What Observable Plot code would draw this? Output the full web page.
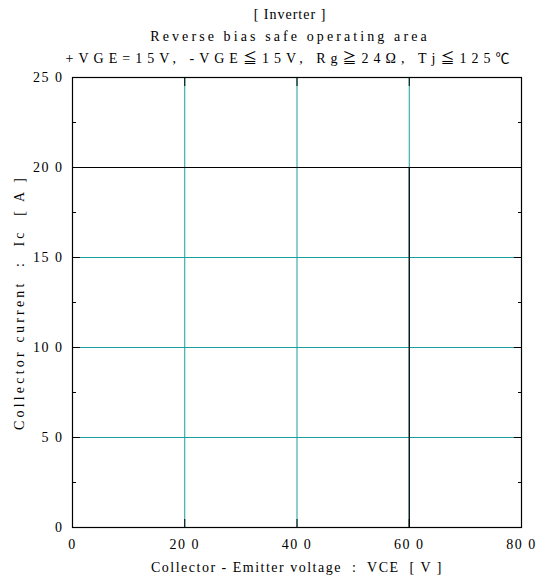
<!DOCTYPE html>
<html><head><meta charset="utf-8">
<script src="https://cdn.jsdelivr.net/npm/d3@7"></script>
<script src="https://cdn.jsdelivr.net/npm/@observablehq/plot@0.6"></script>
<style>
body{margin:0;background:#fff;}
#wrap{position:relative;width:546px;height:582px;}
#titles{position:absolute;left:0;top:4px;width:580px;text-align:center;font-family:"Liberation Serif","Noto Sans CJK JP",serif;font-size:14px;line-height:22px;color:#000;z-index:2;}
#titles div{white-space:pre;}
</style></head>
<body><div id="wrap"><div id="titles"></div></div>
<script>
const titleLines = ["[ Inverter ]", "Reverse bias safe operating area", "+VGE=15V, -VGE≦15V, Rg≧24Ω, Tj≦125℃"];
const titleSpacing = [1.0, 3.1, 5.0];
const xLabel = "Collector - Emitter voltage  :  VCE  [ V ]";
const yLabel = "Collector current  :  Ic  [ A ]";
const xTicks = [0, 200, 400, 600, 800];
const xTickLabels = ["0", "20 0", "40 0", "60 0", "80 0"];
const yTicks = [0, 50, 100, 150, 200, 250];
const yTickLabels = ["0", "5 0", "10 0", "15 0", "20 0", "25 0"];
const yMinor = [25, 75, 125, 175, 225];
const xGrid = [200, 400, 600];
const yGrid = [50, 100, 150];
// RBSOA boundary
const vce = [0, 600, 600];
const ic = [200, 200, 0];
const limitIc = [200];

const t = document.getElementById("titles");
titleLines.forEach((s, i) => {
  const d = document.createElement("div");
  d.textContent = s;
  d.style.letterSpacing = titleSpacing[i] + "px";
  t.appendChild(d);
});

const curve = vce.map((v, i) => ({v, i: ic[i]}));
const teal = "#1a9e9e";
const font = "'Liberation Serif','Noto Sans CJK JP',serif";

const tk = (data, opts) => Plot.axisY(data, {text: null, label: null, tickFormat: null, stroke: "#000", ...opts});
const tkx = (data, opts) => Plot.axisX(data, {text: null, label: null, tickFormat: null, stroke: "#000", ...opts});

const chart = Plot.plot({
  width: 546, height: 582,
  marginLeft: 72, marginRight: 25, marginTop: 77, marginBottom: 55,
  style: {fontFamily: font, fontSize: "14px", color: "#000", background: "#fff"},
  x: {domain: [0, 800]},
  y: {domain: [0, 250]},
  marks: [
    Plot.ruleY(yGrid, {stroke: teal, strokeWidth: 1}),
    Plot.ruleX(xGrid, {stroke: teal, strokeWidth: 1}),
    Plot.ruleY(limitIc, {stroke: "#000", strokeWidth: 1}),
    Plot.line(curve, {x: "v", y: "i", stroke: "#000", strokeWidth: 1.2}),
    // inward ticks
    tk(yTicks, {anchor: "left", tickSize: 8, dx: 8}),
    tk(yTicks, {anchor: "right", tickSize: 8, dx: -8}),
    tk(yMinor, {anchor: "left", tickSize: 4, dx: 4}),
    tk(yMinor, {anchor: "right", tickSize: 4, dx: -4}),
    tkx(xTicks, {anchor: "bottom", tickSize: 8, dy: -8}),
    tkx(xTicks, {anchor: "top", tickSize: 8, dy: 8}),
    Plot.frame({stroke: "#000", strokeWidth: 1.2}),
    Plot.axisX(xTicks, {tickSize: 0, tickPadding: 12, tickFormat: (d, i) => xTickLabels[i], fontSize: 14,
      label: xLabel, labelAnchor: "center", labelArrow: "none", labelOffset: 44}),
    Plot.axisY(yTicks, {tickSize: 0, tickPadding: 9, tickFormat: (d, i) => yTickLabels[i], fontSize: 14,
      label: yLabel, labelAnchor: "center", labelArrow: "none", labelOffset: 58})
  ]
});
document.getElementById("wrap").prepend(chart);
chart.style.position = "absolute";
chart.style.left = "0";
chart.style.top = "0";
chart.querySelectorAll("text").forEach(el => {
  el.style.letterSpacing = el.textContent === yLabel ? "3.2px" : "1.5px";
});
</script>
</body></html>
